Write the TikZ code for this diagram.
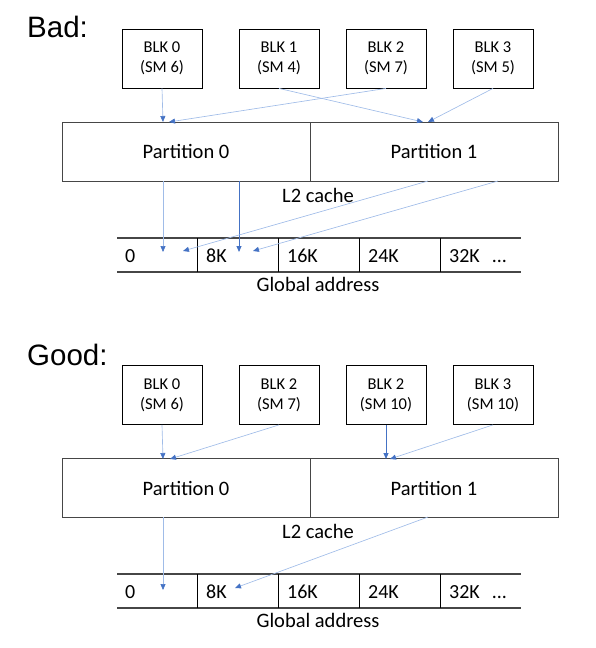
\documentclass[tikz,border=0pt]{standalone}
\usepackage{fontspec}
\setmainfont{Carlito}
\newfontfamily\headfont{Liberation Sans}
\usetikzlibrary{arrows.meta}
\definecolor{lightarr}{RGB}{160,188,232}
\definecolor{darkarr}{RGB}{68,114,196}
\definecolor{edgegray}{RGB}{70,70,70}
\begin{document}
\begin{tikzpicture}[x=1pt,y=-1pt,
 blk/.style={draw=black, line width=0.8pt, minimum width=80pt, minimum height=59pt, inner sep=0pt, align=center, font=\fontsize{16.5}{20}\selectfont},
 part/.style={draw=edgegray, line width=1pt, minimum width=248pt, minimum height=59pt, inner sep=0pt, font=\fontsize{20.5}{24}\selectfont},
 lbl/.style={font=\fontsize{20.5}{24}\selectfont, inner sep=0pt, anchor=base},
 cell/.style={font=\fontsize{20}{24}\selectfont, anchor=base west, inner sep=0pt},
 head/.style={font=\headfont\fontsize{29.5}{34}\selectfont, anchor=base west, inner sep=0pt},
 bar/.style={draw=edgegray, line width=1.1pt},
 divl/.style={draw=black, line width=0.8pt},
 la/.style={draw=lightarr, line width=0.65pt, -{Triangle[length=6pt,width=5pt,color=darkarr]}},
 da/.style={draw=darkarr, line width=0.9pt, -{Triangle[length=6pt,width=5pt,color=darkarr]}}
]
\useasboundingbox (0,0) rectangle (595,648);

% ---------------- Bad ----------------
\node[head] (badlbl) at (27,37) {Bad:};
\node[blk] (b0) at (162,58.5) {BLK 0\\(SM 6)};
\node[blk] (b1) at (279,58.5) {BLK 1\\(SM 4)};
\node[blk] (b2) at (386,58.5) {BLK 2\\(SM 7)};
\node[blk] (b3) at (493,58.5) {BLK 3\\(SM 5)};
\node[part] (bp0) at (186,151.5) {Partition 0};
\node[part] (bp1) at (434,151.5) {Partition 1};
\node[lbl] (bl2) at (318,202) {L2 cache};
\draw[bar] (117,238) -- (521,238);
\draw[bar] (117,272) -- (521,272);
\foreach \x in {197,278,359,440} \draw[divl] (\x,238) -- (\x,272);
\node[cell] (bc0) at (125,262) {0};
\node[cell] (bc1) at (206,262) {8K};
\node[cell] (bc2) at (287,262) {16K};
\node[cell] (bc3) at (368,262) {24K};
\node[cell] (bc4) at (449,262) {32K\hspace{12pt}...};
\node[lbl] (bga) at (318,291) {Global address};

\coordinate (bt0) at (163,122);
\coordinate (bt1) at (423,122);
\coordinate (bt2) at (169,122);
\coordinate (bt3) at (428,122);
\coordinate (bs0) at (163,181);
\coordinate (bs1) at (239,181);
\coordinate (bs2) at (428,181);
\coordinate (bs3) at (498,181);
\coordinate (be0) at (163,252);
\coordinate (be1) at (239,252);
\coordinate (be2) at (183,251);
\coordinate (be3) at (253,251);
\draw[la] (b0.south) -- (bt0);
\draw[la] (b1.south) -- (bt1);
\draw[la] (b2.south) -- (bt2);
\draw[la] (b3.south) -- (bt3);
\draw[la] (bs0) -- (be0);
\draw[da] (bs1) -- (be1);
\draw[la] (bs2) -- (be2);
\draw[la] (bs3) -- (be3);

% ---------------- Good ----------------
\node[head] (goodlbl) at (27,365) {Good:};
\node[blk] (g0) at (162,395) {BLK 0\\(SM 6)};
\node[blk] (g1) at (279,395) {BLK 2\\(SM 7)};
\node[blk] (g2) at (386,395) {BLK 2\\(SM 10)};
\node[blk] (g3) at (493,395) {BLK 3\\(SM 10)};
\node[part] (gp0) at (186,488) {Partition 0};
\node[part] (gp1) at (434,488) {Partition 1};
\node[lbl] (gl2) at (318,538) {L2 cache};
\draw[bar] (117,574) -- (521,574);
\draw[bar] (117,608) -- (521,608);
\foreach \x in {197,278,359,440} \draw[divl] (\x,574) -- (\x,608);
\node[cell] (gc0) at (125,598) {0};
\node[cell] (gc1) at (206,598) {8K};
\node[cell] (gc2) at (287,598) {16K};
\node[cell] (gc3) at (368,598) {24K};
\node[cell] (gc4) at (449,598) {32K\hspace{12pt}...};
\node[lbl] (gga) at (318,627) {Global address};

\coordinate (gt0) at (163,459);
\coordinate (gt1) at (170,459);
\coordinate (gt2) at (386,459);
\coordinate (gt3) at (390,459);
\coordinate (gs0) at (163,517);
\coordinate (gs2) at (428,517);
\coordinate (ge0) at (163,590);
\coordinate (ge2) at (235,588);
\draw[la] (g0.south) -- (gt0);
\draw[la] (g1.south) -- (gt1);
\draw[da] (g2.south) -- (gt2);
\draw[la] (g3.south) -- (gt3);
\draw[la] (gs0) -- (ge0);
\draw[la] (gs2) -- (ge2);
\end{tikzpicture}
\end{document}
